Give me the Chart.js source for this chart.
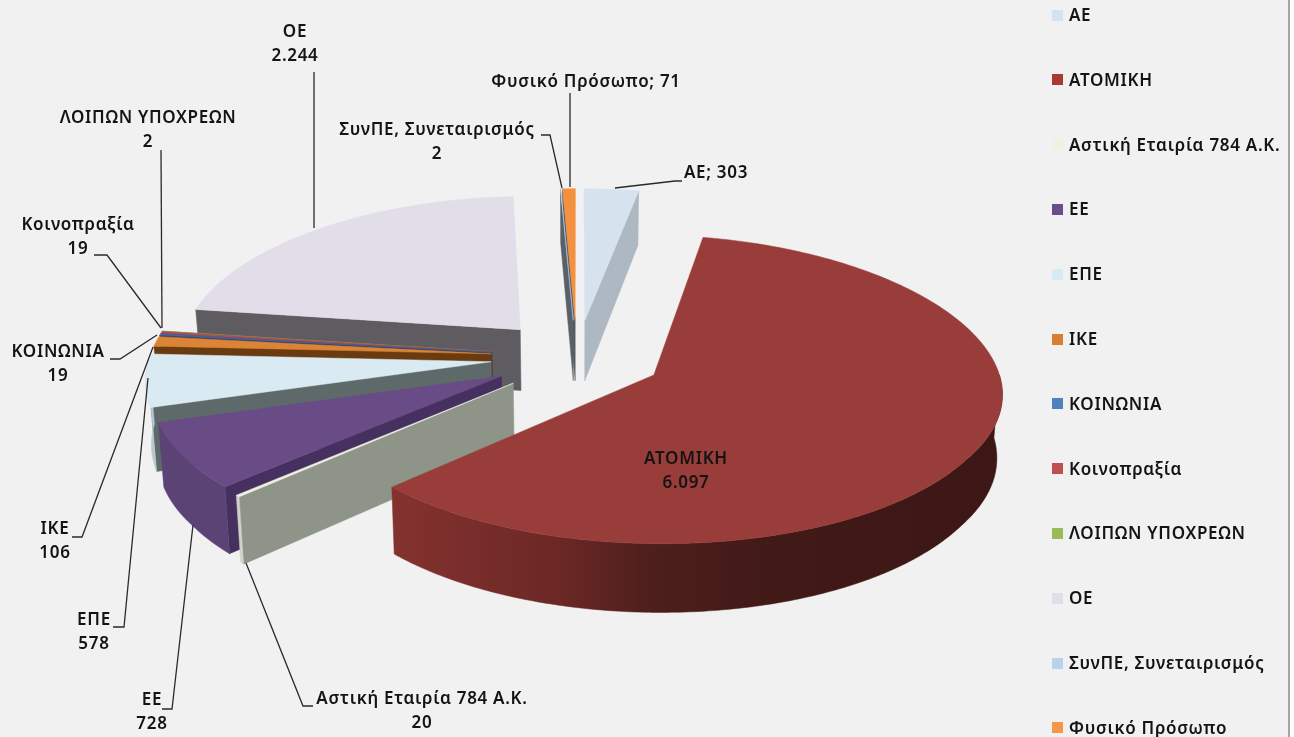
<!DOCTYPE html>
<html lang="el">
<head>
<meta charset="utf-8">
<title>Κατανομή ανά νομική μορφή</title>
<script src="https://cdn.jsdelivr.net/npm/chart.js@4"></script>
<style>
html,body{margin:0;padding:0;background:#fff;overflow:hidden}
#frame{position:absolute;left:0;top:0;width:1288px;height:737px;background:#f1f1f1;border-right:2px solid #a6a6a6}
#c{position:absolute;left:0;top:0}
#legend{position:absolute;left:0;top:0;font:600 17px "Noto Sans",sans-serif;letter-spacing:.7px;color:#141414}
.li{position:absolute;left:1069px;white-space:nowrap;line-height:20px;height:20px}
.sw{position:absolute;left:1052px;width:11px;height:11px}
</style>
</head>
<body>
<div id="frame"></div>
<canvas id="c" width="1294" height="737"></canvas>
<div id="legend"></div>
<script>
// ---- data ----
const categories = ["ΑΕ","ΑΤΟΜΙΚΗ","Αστική Εταιρία 784 Α.Κ.","ΕΕ","ΕΠΕ","ΙΚΕ","ΚΟΙΝΩΝΙΑ","Κοινοπραξία","ΛΟΙΠΩΝ ΥΠΟΧΡΕΩΝ","ΟΕ","ΣυνΠΕ, Συνεταιρισμός","Φυσικό Πρόσωπο"];
const values = [303,6097,20,728,578,106,19,19,2,2244,2,71];

// ---- styles ----
const legendColors = ["#d5e2f0","#a83a32","#eef2e2","#6a4d8e","#d6ebf3","#d87f32","#4f81bd","#c0504d","#9bbb59","#e0deea","#b8d3ee","#f79646"];
const topColors    = ["#d6e2ee","#993d3b","#eef0e2","#694c86","#d9eaf2","#dc8436","#4f5f9a","#b0504d","#8a9a59","#e1dde9","#b8d3ee","#f3913f"];
const faceColors   = ["#aeb8c2","#5d2420","#8f9488","#453060","#5e6a6a","#6a3a10","#33405f","#6a3030","#556035","#5e5c60","#5a6068","#565b62"];
const wallColors   = ["#aeb8c2",null,"#cfd2c4","#5b4475","#b8c8d0","#6a3a10","#33405f","#6a3030","#556035","#8a8890","#8aa0b8","#b06a30"];
const bigWallStops = [[0,"#84322f"],[0.275,"#6b2825"],[0.42,"#4e1f1c"],[0.6,"#421a18"],[1,"#3c1715"]];
const paintOrder   = [9,0,11,10,8,7,6,5,4,3,2,1];

// ---- label layout ----
const labelLayout = [
  {i:0, sep:"; ", x:716, y:173, lead:[[682,181],[675,181],[615,188]]},
  {i:11,sep:"; ", x:586, y:82,  lead:[[570,93],[570,187]]},
  {i:10,x:437, y:130, lead:[[541,135],[550,135],[562,188]]},
  {i:9, x:295, y:32,  lead:[[314,72],[314,228]]},
  {i:8, x:148, y:118, lead:[[161,150],[162,328]]},
  {i:7, x:78,  y:225, lead:[[94,255],[107,255],[161,328]]},
  {i:6, x:58,  y:352, lead:[[110,359],[120,359],[157,335]]},
  {i:5, x:55,  y:529, lead:[[72,537],[82,537],[153,347]]},
  {i:4, x:94,  y:620, lead:[[113,627],[124,627],[148,378]]},
  {i:3, x:152, y:700, lead:[[162,709],[172,709],[193,525]]},
  {i:2, x:422, y:699, lead:[[313,706],[303,706],[246,563]]},
  {i:1, x:686, y:459, lead:[]}
];

const LABEL_FONT = '600 17px "Noto Sans", sans-serif';
const EXPLODE = 88, DEPTH = 62;
const fmt = v => String(v).replace(/\B(?=(\d{3})+(?!\d))/g, ".");

// ground plane -> screen projection of the 3D pie
function project(cx, cy, u, v, h) {
  const s = 0.98 + 0.00031 * v;
  const t = h ? 1 : 0;
  const d = DEPTH * (1 + 0.00028 * v);
  return [cx + u * s * (1 - 0.013 * t), cy + v * (0.426 + 0.0000913 * v) + Math.max(0, v - 230) * 0.042 + t * d];
}

const pie3d = {
  id: "pie3d",
  beforeDatasetsDraw(chart) {
    const ctx = chart.ctx;
    const arcs = chart.getDatasetMeta(0).data;
    paintOrder.forEach(idx => {
      const a = arcs[idx];
      const p = a.getProps(["x","y","startAngle","endAngle","outerRadius"], true);
      const R = p.outerRadius, mid = (p.startAngle + p.endAngle) / 2;
      const ox = Math.cos(mid) * EXPLODE, oy = Math.sin(mid) * EXPLODE;
      const pt = (ang, r, h) => project(p.x, p.y, ox + r * Math.cos(ang), oy + r * Math.sin(ang), h);
      const poly = (pts, fill) => {
        ctx.beginPath();
        pts.forEach((q, n) => n ? ctx.lineTo(q[0], q[1]) : ctx.moveTo(q[0], q[1]));
        ctx.closePath();
        ctx.fillStyle = fill; ctx.strokeStyle = fill; ctx.lineWidth = 0.5;
        ctx.fill(); ctx.stroke();
      };
      const base = Math.PI / 2;
      const th0 = p.startAngle + base, th1 = p.endAngle + base;
      if (th0 > Math.PI) poly([pt(0,0,0),pt(p.startAngle,R,0),pt(p.startAngle,R,1),pt(0,0,1)], faceColors[idx]);
      if (th1 < Math.PI) poly([pt(0,0,0),pt(p.endAngle,R,0),pt(p.endAngle,R,1),pt(0,0,1)], faceColors[idx]);
      const from = Math.max(p.startAngle, 0), to = Math.min(p.endAngle, Math.PI);
      if (to > from) {
        const n = Math.max(2, Math.ceil((to - from) * 80)), upper = [], lower = [];
        for (let k = 0; k <= n; k++) {
          const ang = from + (to - from) * k / n;
          upper.push(pt(ang, R, 0)); lower.push(pt(ang, R, 1));
        }
        const xs = upper.map(q => q[0]);
        let fill = wallColors[idx];
        if (!fill) {
          fill = ctx.createLinearGradient(Math.min(...xs), 0, Math.max(...xs), 0);
          bigWallStops.forEach(s => fill.addColorStop(s[0], s[1]));
        }
        poly(upper.concat(lower.reverse()), fill);
      }
      const n = Math.max(2, Math.ceil((p.endAngle - p.startAngle) * 80));
      const top = [pt(0,0,0)];
      for (let k = 0; k <= n; k++) top.push(pt(p.startAngle + (p.endAngle - p.startAngle) * k / n, R, 0));
      poly(top, topColors[idx]);
    });
    return false;
  },
  afterDraw(chart) {
    const ctx = chart.ctx;
    ctx.save();
    ctx.font = LABEL_FONT; ctx.textAlign = "center"; ctx.textBaseline = "middle";
    ctx.letterSpacing = "0.7px";
    labelLayout.forEach(l => {
      if (l.lead.length) {
        ctx.beginPath();
        l.lead.forEach((q, n) => n ? ctx.lineTo(q[0], q[1]) : ctx.moveTo(q[0], q[1]));
        ctx.strokeStyle = "#2a2a2a"; ctx.lineWidth = 1.3; ctx.stroke();
      }
      ctx.fillStyle = "#141414";
      if (l.sep) {
        ctx.fillText(categories[l.i] + l.sep + fmt(values[l.i]), l.x, l.y);
      } else {
        ctx.fillText(categories[l.i], l.x, l.y);
        ctx.fillText(fmt(values[l.i]), l.x, l.y + 24);
      }
    });
    ctx.restore();
  }
};

new Chart(document.getElementById("c"), {
  type: "pie",
  data: { labels: categories, datasets: [{ data: values, backgroundColor: topColors, borderWidth: 0, radius: 348 }] },
  options: {
    responsive: false,
    animation: false,
    radius: 348,
    layout: { padding: { right: 140, bottom: 23 } },
    plugins: { legend: { display: false }, tooltip: { enabled: false } }
  },
  plugins: [pie3d]
});

const lg = document.getElementById("legend");
categories.forEach((name, i) => {
  const cy = 15 + 64.8 * i;
  const sw = document.createElement("div");
  sw.className = "sw"; sw.style.top = (cy - 5.5) + "px"; sw.style.background = legendColors[i];
  const t = document.createElement("div");
  t.className = "li"; t.style.top = (cy - 10) + "px"; t.textContent = name;
  lg.appendChild(sw); lg.appendChild(t);
});
</script>
</body>
</html>
